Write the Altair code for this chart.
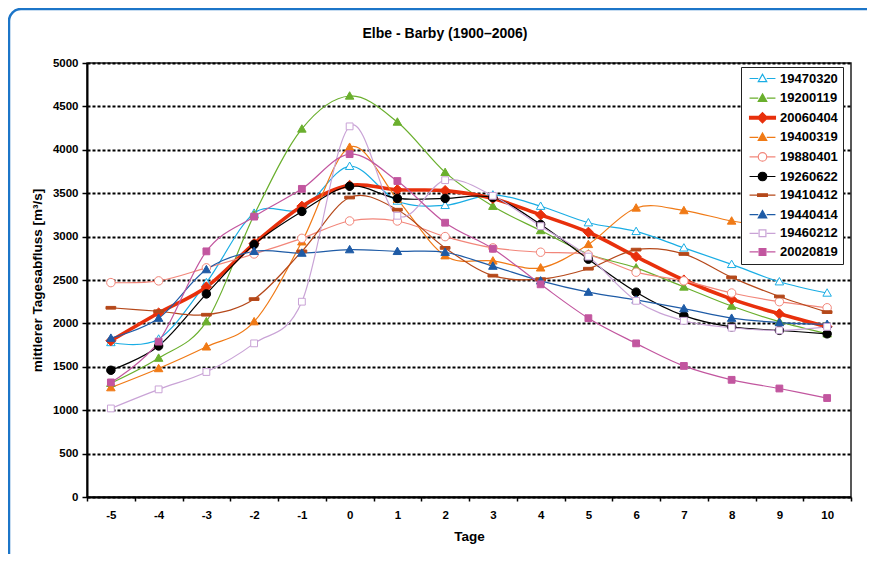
import altair as alt
import pandas as pd

# ---------------- data ----------------
tage = list(range(-5, 11))
series = ["19470320", "19200119", "20060404", "19400319", "19880401",
          "19260622", "19410412", "19440414", "19460212", "20020819"]

s19470320 = [1780, 1820, 2470, 3270, 3320, 3810, 3410, 3360, 3480, 3350, 3160, 3060, 2870, 2680, 2480, 2350]
s19200119 = [1310, 1600, 2020, 3250, 4240, 4620, 4320, 3740, 3350, 3070, 2800, 2640, 2420, 2200, 2020, 1880]
s20060404 = [1800, 2120, 2420, 2920, 3350, 3590, 3540, 3530, 3440, 3250, 3050, 2770, 2500, 2280, 2110, 1960]
s19400319 = [1260, 1480, 1730, 2020, 2940, 4030, 3430, 2780, 2720, 2640, 2910, 3330, 3300, 3180, 3100, 3000]
s19880401 = [2470, 2490, 2640, 2800, 2980, 3180, 3180, 3000, 2870, 2820, 2790, 2590, 2490, 2350, 2250, 2180]
s19260622 = [1460, 1740, 2340, 2910, 3290, 3580, 3440, 3440, 3450, 3140, 2740, 2360, 2090, 1960, 1920, 1880]
s19410412 = [2180, 2140, 2100, 2280, 2830, 3450, 3310, 2870, 2550, 2510, 2630, 2850, 2800, 2530, 2310, 2130]
s19440414 = [1830, 2060, 2620, 2830, 2810, 2850, 2830, 2820, 2660, 2490, 2360, 2270, 2170, 2060, 2010, 1990]
s19460212 = [1020, 1240, 1440, 1770, 2250, 4270, 3240, 3650, 3470, 3120, 2770, 2260, 2030, 1950, 1920, 1960]
s20020819 = [1320, 1790, 2830, 3230, 3550, 3950, 3640, 3160, 2860, 2450, 2060, 1770, 1510, 1350, 1250, 1140]

values = [s19470320, s19200119, s20060404, s19400319, s19880401,
          s19260622, s19410412, s19440414, s19460212, s20020819]

y_ticks = list(range(0, 5001, 500))

# ---------------- styles ----------------
colors = ["#1AADE4", "#6AAF2D", "#E8300C", "#F07A16", "#F2867A",
          "#000000", "#B5481A", "#1E5BA6", "#C9A3D6", "#C2569F"]
fills = ["#FFFFFF", "#6AAF2D", "#E8300C", "#F07A16", "#FFFFFF",
         "#000000", "#B5481A", "#1E5BA6", "#FFFFFF", "#C2569F"]

TRI = "M0,-1L1,0.75L-1,0.75Z"
CIR = "M1,0A1,1,0,1,1,-1,0A1,1,0,1,1,1,0Z"
SQ = "M-0.8,-0.8H0.8V0.8H-0.8Z"
DIA = "M0,-1.2L1.2,0L0,1.2L-1.2,0Z"
DASH = "M-1.15,-0.32H1.15V0.32H-1.15Z"
markers = [TRI, TRI, DIA, TRI, CIR, CIR, DASH, TRI, SQ, SQ]

LINE = "M-3.05,0H-1M1,0H3.05"
THICK = "M-3.05,-0.32H-1.1V0.32H-3.05ZM1.1,-0.32H3.05V0.32H1.1Z"
legend_paths = [LINE + m if s != "20060404" else THICK + m for s, m in zip(series, markers)]

rows = []
for name, vals in zip(series, values):
    for t, v in zip(tage, vals):
        rows.append({"Tag": t, "Serie": name, "Abfluss": v})
df = pd.DataFrame(rows)

FONT = "Liberation Sans"

x_enc = alt.X(
    "Tag:O", sort=tage,
    scale=alt.Scale(type="band", paddingInner=0, paddingOuter=0),
    axis=alt.Axis(title="Tage", labelAngle=0, tickBand="extent", tickSize=4,
                  labelPadding=8, titlePadding=9),
)
y_enc = alt.Y(
    "Abfluss:Q",
    scale=alt.Scale(domain=[0, 5000], nice=False),
    axis=alt.Axis(title="mittlerer Tagesabfluss [m³/s]", values=y_ticks, format="d",
                  tickSize=5, labelPadding=4, titlePadding=8),
)

lines = alt.Chart(df).mark_line(interpolate="cardinal").encode(
    x=x_enc, y=y_enc,
    stroke=alt.Stroke("Serie:N", scale=alt.Scale(domain=series, range=colors), legend=None),
    strokeWidth=alt.condition("datum.Serie == '20060404'", alt.value(3.6), alt.value(1.2)),
)

points = alt.Chart(df).mark_point(filled=True, size=72, opacity=1, strokeWidth=1).encode(
    x=x_enc, y=y_enc,
    stroke=alt.Stroke("Serie:N", scale=alt.Scale(domain=series, range=colors), legend=None),
    fill=alt.Fill("Serie:N", scale=alt.Scale(domain=series, range=fills), legend=None),
    shape=alt.Shape("Serie:N", scale=alt.Scale(domain=series, range=markers), legend=None),
)

leg = dict(orient="none", legendX=654, legendY=4, title=None)
legend_layer = alt.Chart(df).transform_filter("false").mark_point(
    filled=True, size=72, opacity=1
).encode(
    x=x_enc, y=y_enc,
    stroke=alt.Stroke("Serie:N", scale=alt.Scale(domain=series, range=colors), legend=alt.Legend(**leg)),
    fill=alt.Fill("Serie:N", scale=alt.Scale(domain=series, range=fills), legend=alt.Legend(**leg)),
    shape=alt.Shape("Serie:N", scale=alt.Scale(domain=series, range=legend_paths), legend=alt.Legend(**leg)),
)

frame = alt.Chart(pd.DataFrame({"k": [0]})).mark_rect(
    cornerRadius=12, fillOpacity=0, stroke="#1C75C8", strokeWidth=2.5, clip=False
).encode(x=alt.value(-78), x2=alt.value(1200), y=alt.value(-54), y2=alt.value(800))

chart = alt.layer(frame, lines, points, legend_layer).resolve_scale(
    stroke="independent", fill="independent", shape="independent"
).properties(
    width=764, height=434,
    title=alt.TitleParams("Elbe - Barby (1900–2006)", font=FONT, fontSize=14,
                          fontWeight="bold", anchor="middle", dx=-24, offset=-33, color="#000"),
    autosize=alt.AutoSizeParams(type="none"),
    padding={"left": 79, "top": 55, "right": 16, "bottom": 57},
).configure_view(
    stroke="#222", strokeWidth=1.5
).configure_axis(
    labelFont=FONT, labelFontSize=11.5, labelFontWeight="bold", labelColor="#000",
    titleFont=FONT, titleFontSize=13.5, titleFontWeight="bold", titleColor="#000",
    domainColor="#000", domainWidth=2, tickColor="#000", tickWidth=1.5,
    gridColor="#000", gridDash=[3, 2], gridWidth=1.8, gridOpacity=1,
).configure_legend(
    labelFont=FONT, labelFontSize=13, labelFontWeight="bold", labelColor="#000",
    padding=5, rowPadding=4.6, symbolOffset=10, labelOffset=11,
    strokeColor="#222", fillColor="#FFFFFF", symbolSize=72, symbolStrokeWidth=1.2,
)

chart.save("out.html", embed_options={"renderer": "svg", "actions": False})
